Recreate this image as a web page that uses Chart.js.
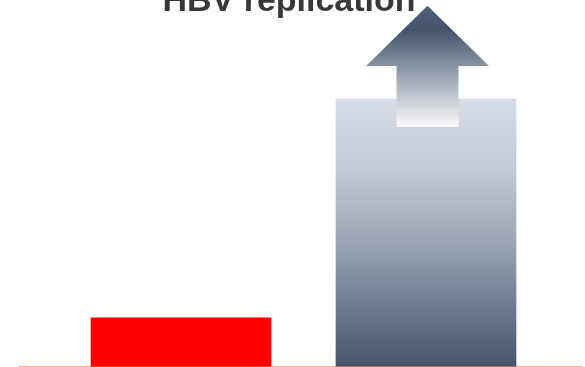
<!DOCTYPE html>
<html>
<head>
<meta charset="utf-8">
<title>HBV replication</title>
<script src="https://cdn.jsdelivr.net/npm/chart.js@4/dist/chart.umd.min.js"></script>
<style>
  html, body { margin: 0; padding: 0; background: #ffffff; }
  #wrap { width: 585px; height: 367px; position: relative; }
</style>
</head>
<body>
<div id="wrap"><canvas id="c" width="585" height="367"></canvas></div>
<script>
// Categories and levels (relative HBV replication)
const categories = ['Baseline', 'Increased'];
const replication = [13.4, 73.0];
const titleText = 'HBV replication';

// Arrow over the second bar, in y-axis units: tip, shoulder, tail
const arrowLevels = { tip: 98.4, shoulder: 82.0, tail: 65.4 };

function barGradient(ctx) {
  const chart = ctx.chart;
  const area = chart.chartArea;
  if (!area) return '#8894a6';
  if (ctx.dataIndex === 0) return '#ff0000';
  const y = chart.scales.y;
  const g = chart.ctx.createLinearGradient(0, y.getPixelForValue(replication[1]), 0, y.getPixelForValue(0));
  g.addColorStop(0, '#d5dce5');
  g.addColorStop(0.25, '#c4cbd5');
  g.addColorStop(0.5, '#a2aab8');
  g.addColorStop(1, '#44546d');
  return g;
}

const decorations = {
  id: 'decorations',
  afterDatasetsDraw(chart) {
    const ctx = chart.ctx;
    const xs = chart.scales.x, ys = chart.scales.y;
    // arrow
    const cx = xs.getPixelForValue(1) + 1.5;
    const yTip = ys.getPixelForValue(arrowLevels.tip);
    const ySh = ys.getPixelForValue(arrowLevels.shoulder);
    const yTail = ys.getPixelForValue(arrowLevels.tail);
    const headHalf = 61.5, shaftHalf = 31;
    const g = ctx.createLinearGradient(0, yTip, 0, yTail);
    g.addColorStop(0, '#50607a');
    g.addColorStop(0.2, '#44546d');
    g.addColorStop(1, '#fbfbfc');
    ctx.save();
    ctx.beginPath();
    ctx.moveTo(cx, yTip);
    ctx.lineTo(cx + headHalf, ySh);
    ctx.lineTo(cx + shaftHalf, ySh);
    ctx.lineTo(cx + shaftHalf, yTail);
    ctx.lineTo(cx - shaftHalf, yTail);
    ctx.lineTo(cx - shaftHalf, ySh);
    ctx.lineTo(cx - headHalf, ySh);
    ctx.closePath();
    ctx.fillStyle = g;
    ctx.fill();
    // baseline
    const y0 = Math.round(ys.getPixelForValue(0)) - 0.5;
    ctx.beginPath();
    ctx.moveTo(19, y0);
    ctx.lineTo(582, y0);
    ctx.strokeStyle = 'rgba(255,120,40,0.6)';
    ctx.lineWidth = 1;
    ctx.stroke();
    // title
    ctx.fillStyle = '#383838';
    ctx.font = 'bold 34px "Liberation Sans", Arial, sans-serif';
    ctx.textAlign = 'center';
    ctx.textBaseline = 'alphabetic';
    ctx.fillText(titleText, 289, 10.5);
    ctx.restore();
  }
};

new Chart(document.getElementById('c'), {
  type: 'bar',
  data: {
    labels: categories,
    datasets: [{
      data: replication,
      backgroundColor: barGradient,
      borderWidth: 0,
      barThickness: 180
    }]
  },
  options: {
    responsive: false,
    animation: false,
    devicePixelRatio: 1,
    layout: { padding: { left: 58.5, right: 36.5, top: 0, bottom: 0 } },
    plugins: { legend: { display: false }, title: { display: false }, tooltip: { enabled: false } },
    scales: {
      x: { display: false, offset: true, grid: { display: false } },
      y: { display: false, min: 0, max: 100, grid: { display: false } }
    }
  },
  plugins: [decorations]
});
</script>
</body>
</html>
